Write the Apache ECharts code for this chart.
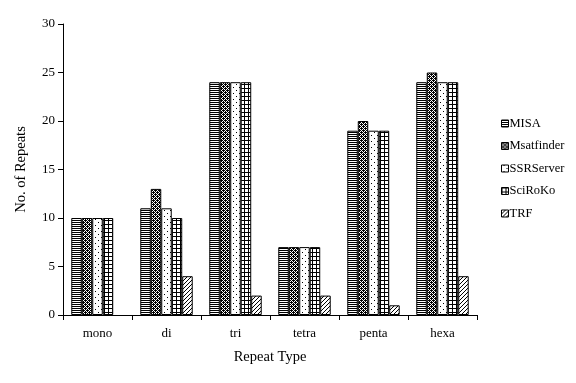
<!DOCTYPE html>
<html><head><meta charset="utf-8">
<script src="https://cdn.jsdelivr.net/npm/echarts@6/dist/echarts.min.js"></script>
<style>html,body{margin:0;padding:0;background:#fff}#c{width:576px;height:383px}</style>
</head><body><div id="c"></div>
<script>
var categories = ['mono','di','tri','tetra','penta','hexa'];
var seriesNames = ['MISA','Msatfinder','SSRServer','SciRoKo','TRF'];
var misa = [10,11,24,7,19,24];
var msatfinder = [10,13,24,7,20,25];
var ssrserver = [10,11,24,7,19,24];
var sciroko = [10,10,24,7,19,24];
var trf = [0,4,2,2,1,4];
var yTicks = [0,5,10,15,20,25,30];

function makePattern(w,h,pixels){
  var c=document.createElement('canvas');c.width=w;c.height=h;
  var x=c.getContext('2d');x.fillStyle='#fff';x.fillRect(0,0,w,h);x.fillStyle='#000';
  pixels.forEach(function(p){x.fillRect(p[0],p[1],1,1);});
  return {image:c,repeat:'repeat'};
}
var patterns=[
  makePattern(2,2,[[0,0],[1,0]]),
  makePattern(4,4,[[0,0],[2,0],[1,1],[3,1],[0,2],[2,2],[1,3],[3,3],[1,0],[3,2]]),
  makePattern(6,6,[[2,0],[5,3]]),
  makePattern(4,4,[[0,0],[1,0],[2,0],[3,0],[0,1],[0,2],[0,3]]),
  makePattern(4,4,[[3,0],[2,1],[1,2],[0,3]])
];
var dataArr=[misa,msatfinder,ssrserver,sciroko,trf];
var font='"Liberation Serif","Times New Roman",serif';
var series=seriesNames.map(function(n,i){
  return {name:n,type:'bar',
    data:dataArr[i].map(function(v){return v===0?'-':v;}),
    barGap:'0%',barCategoryGap:'24%',
    itemStyle:{color:patterns[i],borderColor:'#000',borderWidth:1},
    emphasis:{disabled:true},animation:false};
});
var chart=echarts.init(document.getElementById('c'),null,{renderer:'canvas'});
chart.setOption({
  animation:false,
  grid:{left:63,right:99,top:24,bottom:68,containLabel:false},
  legend:{orient:'vertical',left:496,top:112,itemGap:9.5,itemWidth:7,itemHeight:7,icon:'rect',
    data:seriesNames,
    itemStyle:{borderColor:'#000',borderWidth:1},
    textStyle:{fontFamily:font,fontSize:12.5,color:'#000',padding:[0,0,0,-4]}},
  xAxis:{type:'category',data:categories,name:'Repeat Type',nameLocation:'middle',nameGap:35,
    nameTextStyle:{fontFamily:font,fontSize:14.5,color:'#000'},
    axisLine:{lineStyle:{color:'#000',width:1}},
    axisTick:{show:true,length:5,lineStyle:{color:'#000'}},
    axisLabel:{fontFamily:font,fontSize:13,color:'#000',margin:12},
    splitLine:{show:false}},
  yAxis:{type:'value',min:0,max:30,interval:5,name:'No. of Repeats',nameLocation:'middle',nameGap:34,
    nameTextStyle:{fontFamily:font,fontSize:14.5,color:'#000'},
    axisLine:{show:true,lineStyle:{color:'#000',width:1}},
    axisTick:{show:true,length:5,lineStyle:{color:'#000'}},
    axisLabel:{fontFamily:font,fontSize:13,color:'#000',margin:8,
      formatter:function(v){return yTicks.indexOf(v)>=0?String(v):'';}},
    splitLine:{show:false}},
  series:series
});
</script></body></html>
